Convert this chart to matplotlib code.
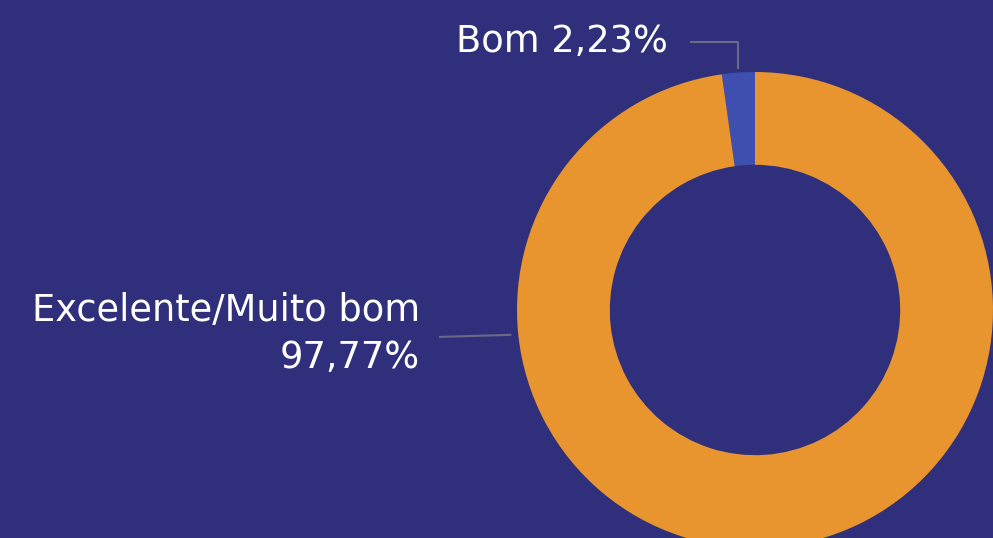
import numpy as np
import matplotlib.pyplot as plt

labels = ["Bom", "Excelente/Muito bom"]
values = [2.23, 97.77]
colors = ["#3f4fb0", "#e8942f"]

bg = "#2f2f7c"
W, H = 993, 538

fig = plt.figure(figsize=(W / 100, H / 100), dpi=100, facecolor=bg)
ax = fig.add_axes([0, 0, 1, 1])
ax.set_facecolor(bg)

cx, cy, r = 755, H - 310, 238
wedges, _ = ax.pie(values, colors=colors, startangle=90, counterclock=True,
                   radius=r, center=(cx, cy),
                   wedgeprops=dict(width=r * 0.39, linewidth=0))
ax.set_xlim(0, W)
ax.set_ylim(0, H)
ax.set_aspect("equal")
ax.axis("off")

line_col = "#6a6a86"
font = dict(family=["DejaVu Sans"], color="white", fontsize=26.5)

# label for the small slice
mid = np.deg2rad(90 + values[0] * 3.6 / 2)
x0, y0 = cx + r * np.cos(mid), cy + r * np.sin(mid)
ax.plot([x0, x0, x0 - 47], [y0 + 5, H - 42, H - 42], color=line_col, lw=1.5)
ax.text(668, H - 42, "Bom 2,23%", ha="right", va="center", **font)

# label for the big slice
ang = np.deg2rad(186)
x1, y1 = cx + r * np.cos(ang), cy + r * np.sin(ang)
ax.plot([x1 - 8, 440], [y1, y1 - 2], color=line_col, lw=1.5)
ax.text(420, H - 334, "Excelente/Muito bom\n97,77%", ha="right", va="center",
        linespacing=1.32, **font)

fig.savefig("out.png", dpi=100, facecolor=bg)
